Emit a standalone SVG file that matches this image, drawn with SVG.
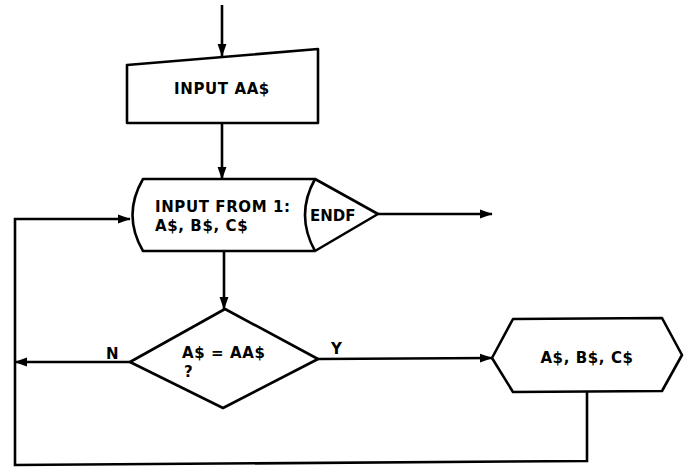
<svg xmlns="http://www.w3.org/2000/svg" width="691" height="468" viewBox="0 0 691 468">
<style>
.s{fill:#fff;stroke:#000;stroke-width:2.6;stroke-linejoin:round}
.c{fill:none;stroke:#000;stroke-width:2.6}
.t{font-family:"DejaVu Sans",sans-serif;font-weight:bold;font-size:15px;letter-spacing:0.6px;fill:#000}
</style>
<defs>
<marker id="a" viewBox="0 0 10 8" refX="9.5" refY="4" markerWidth="5" markerHeight="4" markerUnits="strokeWidth" orient="auto">
<path d="M0,0.5 L10,4 L0,7.5 Z" fill="#000"/>
</marker>
</defs>
<g id="connectors">
<line class="c" x1="222" y1="5" x2="222" y2="56" marker-end="url(#a)"/>
<line class="c" x1="222" y1="123" x2="222" y2="179" marker-end="url(#a)"/>
<line class="c" x1="224" y1="251" x2="224" y2="309" marker-end="url(#a)"/>
<line class="c" x1="378" y1="214" x2="492" y2="214" marker-end="url(#a)"/>
<line class="c" x1="130" y1="362" x2="15" y2="362" marker-end="url(#a)"/>
<line class="c" x1="318" y1="359" x2="492" y2="358" marker-end="url(#a)"/>
<polyline class="c" points="587,392 587,461 15,465 15,219 130,219" marker-end="url(#a)"/>
<text class="t" x="106" y="359">N</text>
<text class="t" x="331" y="354">Y</text>
</g>
<g id="input-aa">
<polygon class="s" points="127,65 318,49 318,123 127,123"/>
<text class="t" x="222" y="94" text-anchor="middle">INPUT AA$</text>
</g>
<g id="input-file">
<path class="s" d="M143,179 L315,179 L378,214 L315,251 L143,251 Q122,215 143,179 Z"/>
<path class="c" d="M315,179 Q295,215 315,251"/>
<text class="t" x="155" y="212">INPUT FROM 1:</text>
<text class="t" x="155" y="231">A$, B$, C$</text>
<text class="t" x="310" y="221" style="letter-spacing:0">ENDF</text>
</g>
<g id="decision">
<polygon class="s" points="225,309 318,359 223,408 130,362"/>
<text class="t" x="182" y="358">A$ = AA$</text>
<text class="t" x="184" y="377">?</text>
</g>
<g id="output">
<polygon class="s" points="492,358 513,319 662,318 682,355 662,391 513,392"/>
<text class="t" x="587" y="363" text-anchor="middle">A$, B$, C$</text>
</g>
</svg>
